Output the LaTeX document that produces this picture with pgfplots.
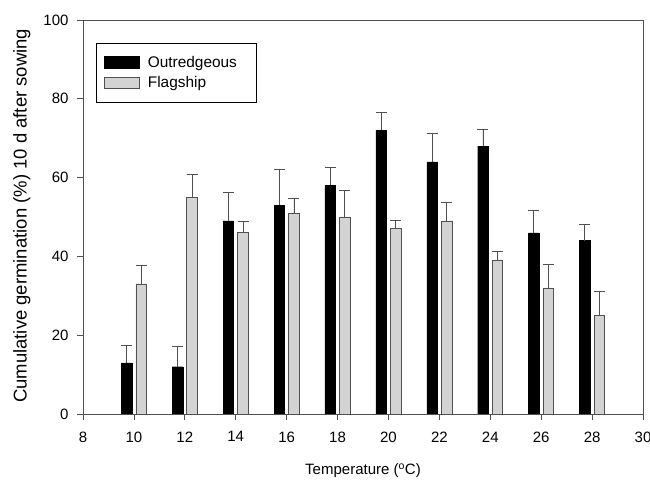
\documentclass[border=0pt]{standalone}
\usepackage{pgfplots}
\pgfplotsset{compat=1.18}
\usepackage{pgfplotstable}
\usepackage{fontspec}
\setmainfont{Liberation Sans}

\definecolor{flaggray}{RGB}{211,211,211}
\definecolor{axgray}{RGB}{80,80,80}

% temperature, Outredgeous mean/+err, Flagship mean/+err
\pgfplotstableread{
t  o   oe   f   fe
10 13  4.3  33  4.6
12 12  5.1  55  5.8
14 49  7.2  46  3.0
16 53  9.1  51  3.8
18 58  4.7  50  6.7
20 72  4.6  47  2.2
22 64  7.3  49  4.6
24 68  4.3  39  2.2
26 46  5.8  32  6.0
28 44  4.2  25  6.0
}\germ

\begin{document}
\begin{tikzpicture}
\begin{axis}[
    scale only axis,
    width=560pt, height=394pt,
    xmin=8, xmax=30, ymin=0, ymax=100,
    xtick={8,10,...,30}, ytick={0,20,...,100},
    xtick pos=bottom, ytick pos=left,
    tick align=outside,
    major tick length=6pt,
    tick style={axgray, line width=0.8pt},
    axis line style={axgray, line width=0.9pt},
    /pgf/number format/assume math mode=true,
    ticklabel style={font=\fontsize{15}{17}\selectfont},
    xticklabel style={yshift=-8pt},
    yticklabel style={xshift=-5pt},
    xlabel={Temperature (\textsuperscript{o}C)},
    ylabel={Cumulative germination (\%) 10 d after sowing},
    xlabel style={font=\fontsize{15}{17}\selectfont,
        at={(axis description cs:0.5,-0.144)}, anchor=center},
    ylabel style={font=\fontsize{18.5}{21}\selectfont,
        at={(axis description cs:-0.109,0.503)}, anchor=center},
    legend style={at={(0.0227,0.941)}, anchor=north west, draw=black,
        line width=0.8pt, font=\fontsize{15.4}{18}\selectfont,
        inner xsep=8pt, inner ysep=10.5pt, row sep=4pt,
        cells={anchor=west}},
    legend cell align=left,
]
% bars sit 0.287 units either side of each temperature
\addplot[ybar, bar width=10.5pt, bar shift=0pt, fill=black, draw=black,
    legend image code/.code={\draw[fill=black, draw=black, line width=0.6pt] (0pt,-5.5pt) rectangle (35pt,6pt); \path (41pt,0pt);},
    error bars/.cd, y dir=plus, y explicit,
    error bar style={axgray, line width=0.8pt},
    error mark options={rotate=90, mark size=5.5pt, axgray, line width=0.8pt}]
    table[x expr=\thisrow{t}-0.287, y=o, y error plus=oe] {\germ};
\addlegendentry{Outredgeous\kern9pt}
\addplot[ybar, bar width=10.5pt, bar shift=0pt, fill=flaggray, draw=axgray, line width=0.8pt,
    legend image code/.code={\draw[fill=flaggray, draw=axgray, line width=0.8pt] (0pt,-5.5pt) rectangle (35pt,6pt); \path (41pt,0pt);},
    error bars/.cd, y dir=plus, y explicit,
    error bar style={axgray, line width=0.8pt},
    error mark options={rotate=90, mark size=5.5pt, axgray, line width=0.8pt}]
    table[x expr=\thisrow{t}+0.287, y=f, y error plus=fe] {\germ};
\addlegendentry{Flagship}
\end{axis}
\pgfresetboundingbox
\path (-83pt,-67pt) rectangle (567pt,414pt);
\end{tikzpicture}
\end{document}
